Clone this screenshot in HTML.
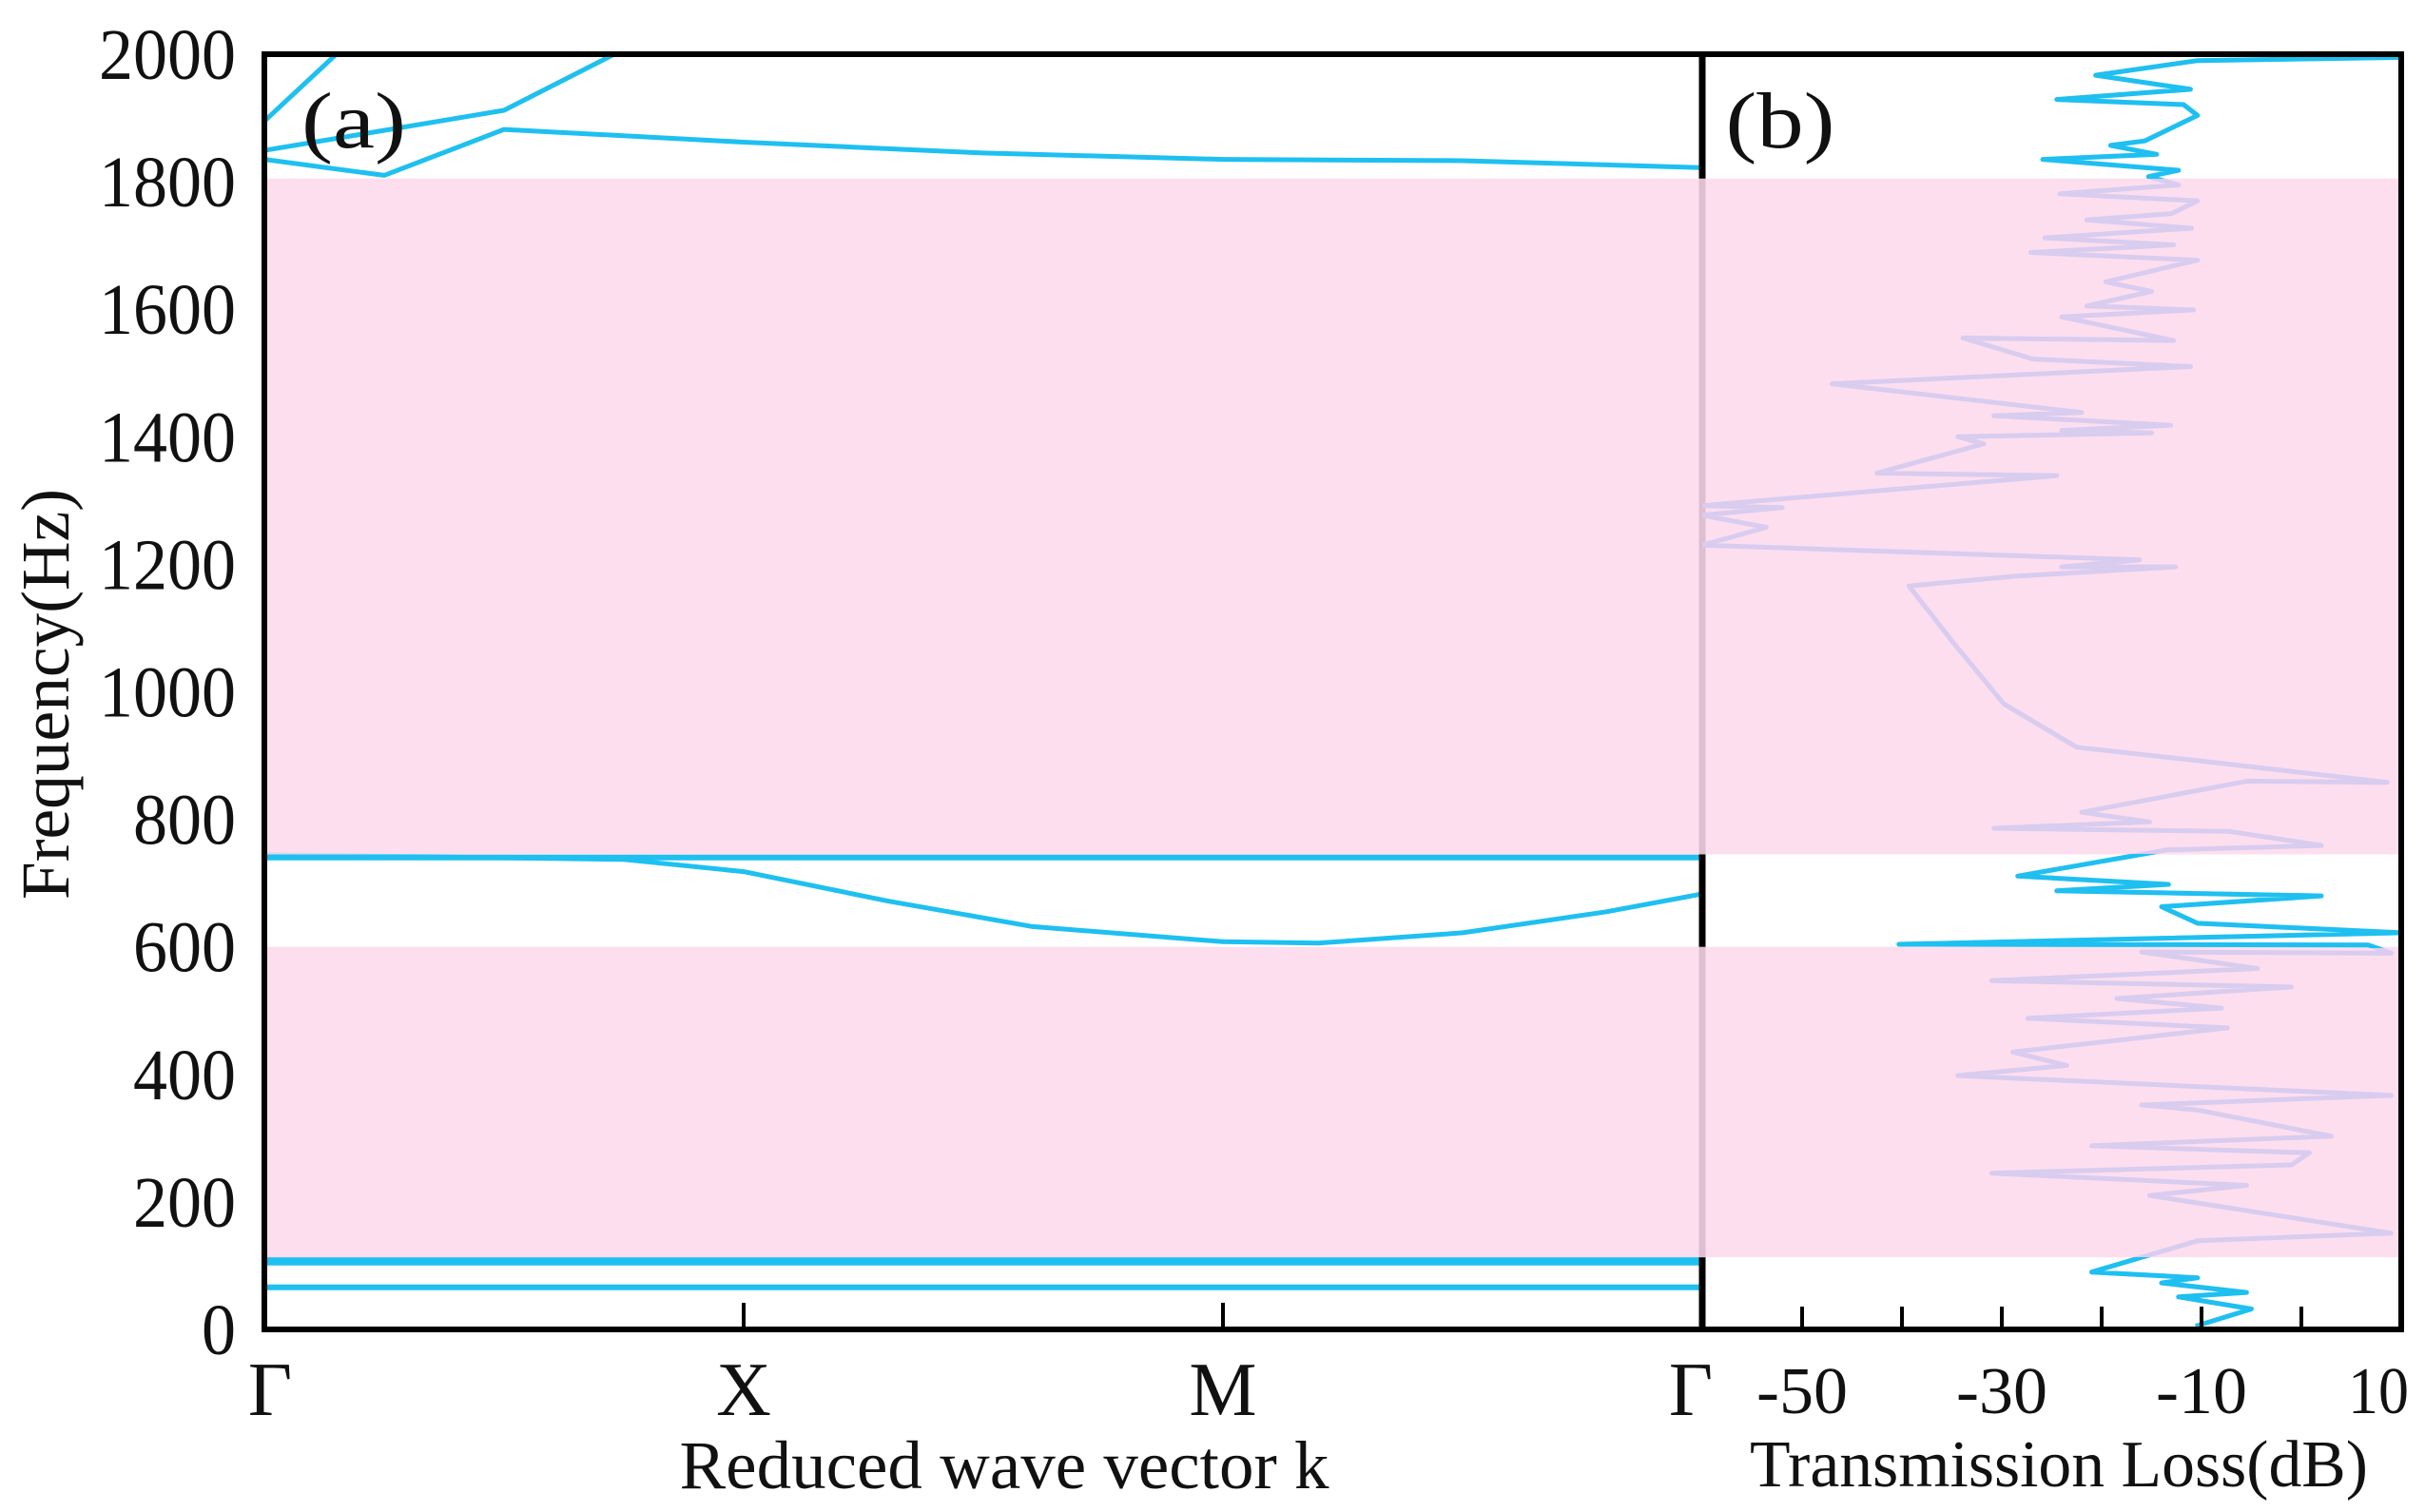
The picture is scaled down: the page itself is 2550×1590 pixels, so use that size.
<!DOCTYPE html>
<html><head><meta charset="utf-8"><style>
html,body{margin:0;padding:0;background:#fff;}
svg{display:block;}
text{font-family:"Liberation Serif",serif;fill:#111;}
</style></head><body>
<svg id="chart" width="2550" height="1590" viewBox="0 0 2550 1590" xmlns="http://www.w3.org/2000/svg">
<defs>
<clipPath id="clipA"><rect x="278" y="57" width="1512" height="1341"/></clipPath>
<clipPath id="clipB"><rect x="1790" y="57" width="735" height="1341"/></clipPath>
<clipPath id="clipPass">
<rect x="1790" y="0" width="760" height="188"/>
<rect x="1790" y="898" width="760" height="99"/>
<rect x="1790" y="1322" width="760" height="100"/>
</clipPath>
</defs>
<g id="panelA" clip-path="url(#clipA)"></g>
<g id="bands"></g>
<g id="panelB" clip-path="url(#clipB)"></g>
<g id="axes"></g>
</svg>
<script>
const NS="http://www.w3.org/2000/svg";
// ---- data ----
const yTicks=[0,200,400,600,800,1000,1200,1400,1600,1800,2000];
const kLabels=["Γ","X","M","Γ"];
const tlTicks=[-50,-30,-10,10];
const tlMinorTicks=[-50,-40,-30,-20,-10,0];
const gapLow=[113,600];
const gapHigh=[745,1805];
const band1K=[0,3]; const band1F=[66,66];
const band2K=[0,3]; const band2F=[107,107];
const band3K=[0,3]; const band3F=[740,740];
const band4K=[0,0.75,1.0,1.3,1.6,2.0,2.2,2.5,2.8,3.0];
const band4F=[745,737,718,672,632,608,606,622,655,683];
const band5K=[0,0.25,0.5,1.0,1.5,2.0,2.5,3.0];
const band5F=[1835,1810,1882,1862,1845,1835,1833,1822];
const band6K=[0,0.5,0.73];
const band6F=[1849,1912,2000];
const band7K=[0,0.15];
const band7F=[1895,2000];
const tlF=[1995,1990,1967,1945,1929,1921,1904,1864,1857,1843,1835,1818,1808,1795,1781,1770,1750,1740,1727,1712,1701,1689,1677,1643,1628,1605,1599,1588,1551,1555,1522,1510,1483,1438,1433,1418,1410,1406,1400,1389,1343,1339,1292,1289,1277,1258,1230,1207,1196,1196,1181,1166,1074,981,913,892,858,860,811,796,786,781,759,752,711,698,688,680,663,637,622,604,603,590,592,566,547,537,519,504,488,473,435,414,398,367,352,344,303,288,277,258,245,226,210,151,139,90,81,73,58,51,32,5];
const tlDB=[10,-10.4,-20.6,-11.1,-24.5,-11.8,-10.4,-15.7,-19.1,-14.5,-25.9,-12.3,-15.3,-12.3,-24.2,-10.4,-13,-21.5,-11,-25.7,-12.8,-27.1,-10.4,-19.6,-15,-21.5,-10.8,-24,-12.8,-33.9,-26.9,-11.1,-47,-22,-30.8,-13.1,-24,-15,-34.4,-31.8,-42.5,-24.5,-60,-52,-60,-53.6,-60,-16.2,-24,-12.6,-28.9,-39.3,-34.7,-29.8,-22.5,-10.4,8.6,-5.4,-22,-15.2,-30.8,-7.2,2,-13.5,-28.4,-13.3,-24.5,2,-14,-10.4,10,-40.3,6.7,9,-16,-4.4,-31,-1,-18.5,-8,-27.4,-7.4,-28.9,-23.5,-34.4,9,-16,-10.4,3,-21,0.8,-1,-31,-5.5,-15.2,9,-10.4,-21,-10.4,-14,-5.5,-12.3,-5,-10.6];
// ---- scales ----
const X0=278,X1=1790,XB1=2525,Y0=1398,Y1=57;
const fy=f=>Y0-(f/2000)*(Y0-Y1);
const kx=k=>X0+(k/3)*(X1-X0);
const dbx=d=>X1+((d+60)/70)*(XB1-X1);
const CYAN="#1ec0f0";
function el(tag,attrs,parent){const e=document.createElementNS(NS,tag);for(const a in attrs)e.setAttribute(a,attrs[a]);parent.appendChild(e);return e;}
const pA=document.getElementById('panelA'),pB=document.getElementById('panelB'),bandsG=document.getElementById('bands'),axG=document.getElementById('axes');
function bandLine(ks,fs,w,name){
  const d=ks.map((k,i)=>(i?'L':'M')+kx(k).toFixed(1)+','+fy(fs[i]).toFixed(1)).join(' ');
  const p=el('path',{d:d,fill:'none',stroke:CYAN,'stroke-width':w,'stroke-linejoin':'round'},pA);
  
  
}
bandLine(band1K,band1F,6,'band-1');
bandLine(band2K,band2F,9,'band-2');
bandLine(band3K,band3F,6,'band-3');
bandLine(band4K,band4F,5,'band-4');
bandLine(band5K,band5F,5,'band-5');
bandLine(band6K,band6F,5,'band-6');
bandLine(band7K,band7F,5,'band-7');
// divider (under pink)
const dv=el('line',{x1:X1,y1:Y1,x2:X1,y2:Y0,stroke:'#000','stroke-width':7},bandsG);


// band gaps
[gapLow,gapHigh].forEach((g,i)=>{
  const r=el('rect',{x:X0,y:fy(g[1]),width:XB1-X0,height:fy(g[0])-fy(g[1]),fill:'rgb(253,218,237)','fill-opacity':0.88},bandsG);
  
  
});
// TL curve
const tlD=tlF.map((f,i)=>(i?'L':'M')+dbx(tlDB[i]).toFixed(1)+','+fy(f).toFixed(1)).join(' ');
const tlBg=el('path',{d:tlD,fill:'none',stroke:'#d8ccef','stroke-width':5,'stroke-linejoin':'round'},pB);


const tl=el('path',{d:tlD,fill:'none',stroke:CYAN,'stroke-width':5,'stroke-linejoin':'round','clip-path':'url(#clipPass)'},pB);


// frame
const fr=el('rect',{x:X0,y:Y1,width:XB1-X0,height:Y0-Y1,fill:'none',stroke:'#000','stroke-width':6},axG);


// y ticks
yTicks.forEach(v=>{
  const t=el('text',{x:248,y:fy(v)+26,'font-size':76,'text-anchor':'end',textLength:String(v).length*36,lengthAdjust:'spacingAndGlyphs'},axG);
  t.textContent=v;
  
  
});
// k ticks
kLabels.forEach((s,i)=>{
  if(i>0&&i<3){const l=el('line',{x1:kx(i),y1:Y0,x2:kx(i),y2:Y0-28,stroke:'#000','stroke-width':4},axG);
    
    }
  const t=el('text',{x:kx(i)+(i==0?6:(i==3?-12:0)),y:1488,'font-size':80,'text-anchor':'middle'},axG);
  t.textContent=s;
  
  
});
tlMinorTicks.forEach(v=>{
  const l=el('line',{x1:dbx(v),y1:Y0,x2:dbx(v),y2:Y0-24,stroke:'#000','stroke-width':4},axG);
  
  
});
tlTicks.forEach(v=>{
  const s=String(v);
  const t=el('text',{x:dbx(v)-(v==10?24:0),y:1486,'font-size':70,'text-anchor':'middle',textLength:s.length*32,lengthAdjust:'spacingAndGlyphs'},axG);
  t.textContent=v;
  
  
});
function label(x,y,s,size,name,extra){
  const t=el('text',Object.assign({x:x,y:y,'font-size':size,'text-anchor':'middle'},extra||{}),axG);
  t.textContent=s;
  
  
  return t;
}
label(372,155,"(a)",84,'panel-a-label',{textLength:110,lengthAdjust:'spacingAndGlyphs'});
label(1872,155,"(b)",84,'panel-b-label',{textLength:115,lengthAdjust:'spacingAndGlyphs'});
label(1056,1565,"Reduced wave vector k",72,'x-axis-title',{textLength:683,lengthAdjust:'spacingAndGlyphs'});
label(2165,1563,"Transmission Loss(dB)",70,'tl-axis-title',{textLength:650,lengthAdjust:'spacingAndGlyphs'});
label(0,0,"Frequency(Hz)",72,'y-axis-title',{transform:'translate(72,730) rotate(-90)',textLength:432,lengthAdjust:'spacingAndGlyphs'});
</script>
</body></html>
